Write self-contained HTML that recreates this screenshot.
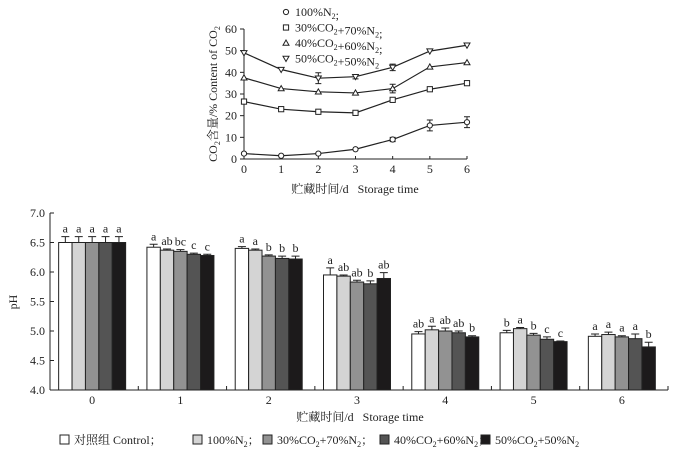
<!DOCTYPE html>
<html><head><meta charset="utf-8"><style>
body{margin:0;background:#fff;}
svg{display:block;font-family:"Liberation Serif","Noto Serif CJK SC",serif;}
</style></head><body>
<svg id="s" width="682" height="459" xmlns="http://www.w3.org/2000/svg"></svg>
<script>
// Top line chart data
const lineDays=[0,1,2,3,4,5,6];
const lineN2=[2.5,1.5,2.5,4.5,9,15.5,17];
const lineN2err=[0,0,0,0,1,2.5,2.5];
const line30=[26.5,23,21.8,21.3,27.3,32.2,35];
const line30err=[0,0,0,0,0,0,0];
const line40=[37.5,32.5,31,30.5,32.5,42.5,44.5];
const line40err=[0,0,0,0,2,0,0];
const line50=[49,41.3,37.3,38,42.3,49.8,52.5];
const line50err=[0,0,2.5,1,1.5,0,0];
const lineYTicks=[0,10,20,30,40,50,60];
// Bottom bar chart data
const barDays=['0','1','2','3','4','5','6'];
const phControl=[6.5,6.42,6.40,5.95,4.95,4.97,4.91];
const phN2=[6.5,6.37,6.37,5.93,5.02,5.04,4.94];
const ph30=[6.5,6.35,6.27,5.83,5.00,4.93,4.90];
const ph40=[6.5,6.30,6.23,5.80,4.97,4.86,4.87];
const ph50=[6.5,6.28,6.22,5.89,4.90,4.82,4.73];
const errControl=[0.1,0.05,0.03,0.12,0.04,0.04,0.04];
const errN2=[0.1,0.02,0.02,0.02,0.06,0.02,0.04];
const err30=[0.1,0.03,0.02,0.03,0.05,0.03,0.02];
const err40=[0.1,0.02,0.04,0.05,0.03,0.04,0.08];
const err50=[0.1,0.02,0.05,0.1,0.02,0.01,0.08];
const letControl=['a','a','a','a','ab','b','a'];
const letN2=['a','ab','a','ab','a','a','a'];
const let30=['a','bc','b','ab','ab','b','a'];
const let40=['a','c','b','b','ab','c','a'];
const let50=['a','c','b','ab','b','c','b'];
const phTicks=['4.0','4.5','5.0','5.5','6.0','6.5','7.0'];

const S=document.getElementById('s');const NS='http://www.w3.org/2000/svg';
function el(t,a,txt){const e=document.createElementNS(NS,t);for(const k in a)e.setAttribute(k,a[k]);if(txt!==undefined)e.textContent=txt;S.appendChild(e);return e;}

// ---------- top chart ----------
const tx=d=>244+d*(467-244)/6, ty=v=>159-v*(159-29)/60;
let e;
e=el('line',{x1:244,y1:29,x2:244,y2:159,stroke:'#222','stroke-width':1});

e=el('line',{x1:244,y1:159,x2:467,y2:159,stroke:'#222','stroke-width':1});

lineYTicks.forEach(v=>{
  e=el('line',{x1:240,y1:ty(v),x2:244,y2:ty(v),stroke:'#222'});
  
  e=el('text',{x:237,y:ty(v)+4,'text-anchor':'end','font-size':12,fill:'#222'},v);
  
});
lineDays.forEach(d=>{
  e=el('line',{x1:tx(d),y1:159,x2:tx(d),y2:156,stroke:'#222'});
  
  e=el('text',{x:tx(d),y:173,'text-anchor':'middle','font-size':12,fill:'#222'},d);
  
});
e=el('text',{x:355,y:193,'text-anchor':'middle','font-size':12,fill:'#222'},'贮藏时间/d\u00a0\u00a0\u00a0Storage time');

e=el('text',{x:0,y:0,'text-anchor':'middle','font-size':12,fill:'#222',transform:'translate(217,94) rotate(-90)'});
e.innerHTML='CO<tspan font-size="8" dy="3">2</tspan><tspan dy="-3">含量/% Content of CO</tspan><tspan font-size="8" dy="3">2</tspan>';


function marker(kind,x,y){
  if(kind==='o')return el('circle',{cx:x,cy:y,r:2.6,fill:'#fff',stroke:'#222'});
  if(kind==='s')return el('rect',{x:x-2.6,y:y-2.6,width:5.2,height:5.2,fill:'#fff',stroke:'#222'});
  if(kind==='t')return el('polygon',{points:`${x},${y-3} ${x-3},${y+2.2} ${x+3},${y+2.2}`,fill:'#fff',stroke:'#222'});
  return el('polygon',{points:`${x},${y+3} ${x-3},${y-2.2} ${x+3},${y-2.2}`,fill:'#fff',stroke:'#222'});
}
const lineSeries=[[lineN2,lineN2err,'o','n2'],[line30,line30err,'s','co2-30'],[line40,line40err,'t','co2-40'],[line50,line50err,'v','co2-50']];
lineSeries.forEach(([vals,errs,k,nm])=>{
  e=el('polyline',{points:vals.map((v,i)=>tx(lineDays[i])+','+ty(v)).join(' '),fill:'none',stroke:'#222','stroke-width':1.2});
  
  vals.forEach((v,i)=>{
    const x=tx(lineDays[i]);
    if(errs[i]>0){
      e=el('path',{d:`M${x},${ty(v+errs[i])}V${ty(v-errs[i])}M${x-3},${ty(v+errs[i])}H${x+3}M${x-3},${ty(v-errs[i])}H${x+3}`,stroke:'#222',fill:'none'});
      
    }
    e=marker(k,x,ty(v));
    
  });
});
const topLeg=[['o','100%N','2',';'],['s','30%CO','2','+70%N','2',';'],['t','40%CO','2','+60%N','2',';'],['v','50%CO','2','+50%N','2','']];
topLeg.forEach((it,i)=>{
  const y=12+i*15.5;
  e=marker(it[0],286,y);
  
  const t=el('text',{x:295,y:y+4,'font-size':12,fill:'#222'});
  let h='';
  for(let j=1;j<it.length;j++){ if(it[j]==='2')h+='<tspan font-size="8" dy="3">2</tspan><tspan dy="-3"></tspan>'; else h+=it[j];}
  t.innerHTML=h;
  
});

// ---------- bottom chart ----------
const bx0=50,bx1=668,band=(bx1-bx0)/7,by=v=>390-(v-4)*(390-213)/3;
e=el('line',{x1:bx0,y1:213,x2:bx0,y2:390,stroke:'#222'});

e=el('line',{x1:bx0,y1:390,x2:bx1,y2:390,stroke:'#222'});

phTicks.forEach(t=>{
  const y=by(parseFloat(t));
  e=el('line',{x1:bx0,y1:y,x2:bx0+4,y2:y,stroke:'#222'});
  
  e=el('text',{x:45,y:y+4,'text-anchor':'end','font-size':12,fill:'#222'},t);
  
});
e=el('text',{x:0,y:0,'text-anchor':'middle','font-size':12,fill:'#222',transform:'translate(17,302) rotate(-90)'},'pH');

for(let k=1;k<=7;k++){
  e=el('line',{x1:bx0+k*band,y1:390,x2:bx0+k*band,y2:386,stroke:'#222'});
  
}
const fills=['#fff','#d4d4d4','#929292','#545454','#1c1a1b'];
const bs=[[phControl,errControl,letControl,'control'],[phN2,errN2,letN2,'n2'],[ph30,err30,let30,'co2-30'],[ph40,err40,let40,'co2-40'],[ph50,err50,let50,'co2-50']];
const bw=13.4;
barDays.forEach((d,g)=>{
  const c=bx0+band*g+band/2-2;
  bs.forEach(([vals,errs,lets,nm],s)=>{
    const x=c-2.5*bw+s*bw, v=vals[g], y=by(v);
    e=el('rect',{x:x,y:y,width:bw,height:390-y,fill:fills[s],stroke:'#222','stroke-width':1});
    
    const xm=x+bw/2, ye=by(v+errs[g]);
    e=el('path',{d:`M${xm},${y}V${ye}M${xm-4},${ye}H${xm+4}`,stroke:'#222',fill:'none'});
    
    e=el('text',{x:xm,y:ye-4,'text-anchor':'middle','font-size':12,fill:'#222'},lets[g]);
    
  });
  e=el('text',{x:c,y:404,'text-anchor':'middle','font-size':12,fill:'#222'},d);
  
});
e=el('text',{x:360,y:421,'text-anchor':'middle','font-size':12,fill:'#222'},'贮藏时间/d\u00a0\u00a0\u00a0Storage time');

const bl=[[60,'对照组 Control；'],[193,'100%N<tspan font-size="8" dy="3">2</tspan><tspan dy="-3">；</tspan>'],[263,'30%CO<tspan font-size="8" dy="3">2</tspan><tspan dy="-3">+70%N</tspan><tspan font-size="8" dy="3">2</tspan><tspan dy="-3">；</tspan>'],[380,'40%CO<tspan font-size="8" dy="3">2</tspan><tspan dy="-3">+60%N</tspan><tspan font-size="8" dy="3">2</tspan><tspan dy="-3">；</tspan>'],[481,'50%CO<tspan font-size="8" dy="3">2</tspan><tspan dy="-3">+50%N</tspan><tspan font-size="8" dy="3">2</tspan>']];
bl.forEach(([x,h],i)=>{
  e=el('rect',{x:x,y:435,width:9,height:9,fill:fills[i],stroke:'#222'});
  
  const t=el('text',{x:x+14,y:444,'font-size':12,fill:'#222'});t.innerHTML=h;
  
});
</script>
</body></html>
